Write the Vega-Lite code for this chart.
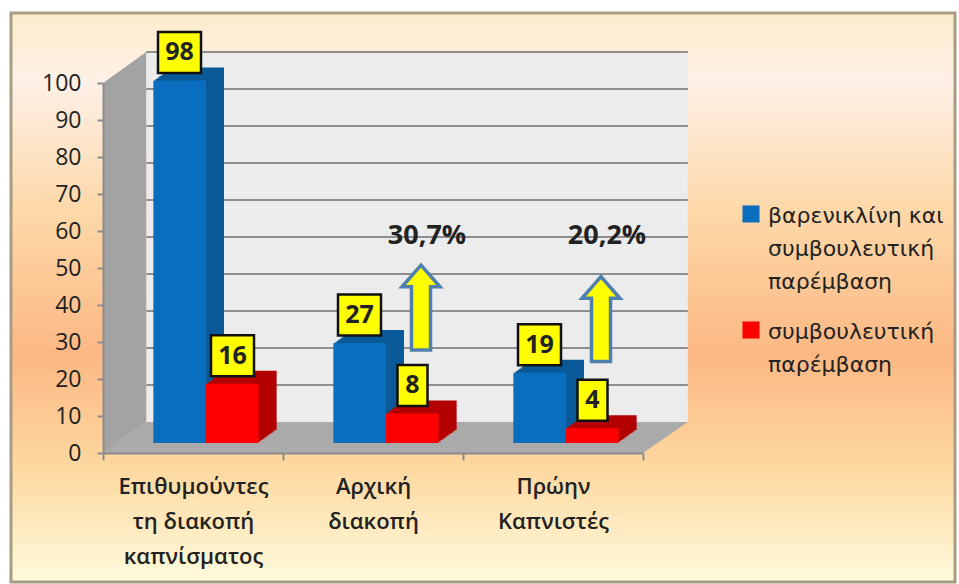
{"$schema":"https://vega.github.io/schema/vega-lite/v6.json","width":540,"height":370,"autosize":{"type":"none"},"padding":{"left":103,"top":83,"right":316,"bottom":131},"background":"#ffffff","config":{"view":{"stroke":null},"font":"Open Sans","axisY":{"tickCount":11,"title":null,"grid":false,"domainColor":"#8c8c8c","domainWidth":2,"tickColor":"#8c8c8c","tickSize":6,"tickWidth":2,"labelFontSize":23,"labelColor":"#222222","labelPadding":16}},
"datasets":{"bars":[
{"cat":"Επιθυμούντες\nτη διακοπή\nκαπνίσματος","series":"βαρενικλίνη και\nσυμβουλευτική\nπαρέμβαση","value":98},
{"cat":"Επιθυμούντες\nτη διακοπή\nκαπνίσματος","series":"συμβουλευτική\nπαρέμβαση","value":16},
{"cat":"Αρχική\nδιακοπή","series":"βαρενικλίνη και\nσυμβουλευτική\nπαρέμβαση","value":27},
{"cat":"Αρχική\nδιακοπή","series":"συμβουλευτική\nπαρέμβαση","value":8},
{"cat":"Πρώην\nΚαπνιστές","series":"βαρενικλίνη και\nσυμβουλευτική\nπαρέμβαση","value":19},
{"cat":"Πρώην\nΚαπνιστές","series":"συμβουλευτική\nπαρέμβαση","value":4}],
"notes":[{"cat":"Αρχική\nδιακοπή","note":"30,7%","arrow":39.3,"noteY":58.6},{"cat":"Πρώην\nΚαπνιστές","note":"20,2%","arrow":36.2,"noteY":58.6}]},
"resolve":{"scale":{"x":"independent"}},
"layer":[
{"layer":[
{"data":{"values":[{}]},"mark":{"type":"rect","fill":{"gradient":"linear","x1":0,"y1":0,"x2":0,"y2":1,"stops":[{"offset":0,"color":"#fdeccc"},{"offset":0.12,"color":"#fef0e6"},{"offset":0.35,"color":"#fdd8a8"},{"offset":0.6,"color":"#fcb884"},{"offset":0.8,"color":"#fdd8a0"},{"offset":1,"color":"#fffbdc"}]},"stroke":"#a89d84","strokeWidth":3},"encoding":{"x":{"value":-92},"x2":{"value":852},"y":{"value":-70},"y2":{"value":499}}},
{"data":{"values":[{"a":0.08,"b":1.083,"lo":8.38,"hi":108.38}]},"mark":{"type":"rect","fill":"#ececec"},"encoding":{"x":{"field":"a","type":"quantitative","scale":{"domain":[0,1]},"axis":null},"x2":{"field":"b"},"y":{"field":"lo","type":"quantitative","scale":{"domain":[0,100],"nice":false},"axis":{"title":null,"zindex":1}},"y2":{"field":"hi"}}},
{"data":{"values":[{"p":0,"lo":0,"hi":100},{"p":0.08,"lo":8.38,"hi":108.38}]},"mark":{"type":"area","fill":"#a3a3a3","orient":"vertical"},"encoding":{"x":{"field":"p","type":"quantitative"},"y":{"field":"lo","type":"quantitative","axis":{"title":null,"zindex":1}},"y2":{"field":"hi"}}},
{"data":{"values":[{"lv":0,"a":0,"b":1},{"lv":8.38,"a":0.08,"b":1.083}]},"mark":{"type":"area","fill":"#abaaaa","orient":"horizontal"},"encoding":{"y":{"field":"lv","type":"quantitative","axis":{"title":null,"zindex":1}},"x":{"field":"a","type":"quantitative"},"x2":{"field":"b"}}},
{"data":{"values":[{"v":10},{"v":20},{"v":30},{"v":40},{"v":50},{"v":60},{"v":70},{"v":80},{"v":90},{"v":100}]},"mark":{"type":"rule","stroke":"#8f8f8f","strokeWidth":2,"yOffset":-31},"encoding":{"y":{"field":"v","type":"quantitative","axis":{"title":null,"zindex":1}},"x":{"datum":0.08},"x2":{"datum":1.083}}}
]},
{"data":{"name":"bars"},"resolve":{"scale":{"xOffset":"independent"}},"encoding":{
"x":{"field":"cat","type":"nominal","sort":null,"scale":{"paddingInner":0,"paddingOuter":0},"axis":{"title":null,"orient":"bottom","labelAngle":0,"tickBand":"extent","zindex":1,"labelExpr":"split(datum.label,'\\n')","labelFontSize":22,"labelFontWeight":600,"labelColor":"#222222","labelPadding":16,"labelLineHeight":35,"labelLimit":0,"domainColor":"#8c8c8c","domainWidth":2,"tickColor":"#8c8c8c","tickSize":7,"tickWidth":2}},
"y":{"field":"value","type":"quantitative","axis":{"title":null,"zindex":1}}},
"layer":[
{"mark":{"type":"bar","yOffset":-23,"y2Offset":-23},"encoding":{"xOffset":{"field":"series","type":"nominal","sort":null,"scale":{"paddingInner":0,"paddingOuter":0.71,"range":[31,211]}},"fill":{"condition":{"test":"indexof(datum.series,'και')>=0","value":"#0a5a99"},"value":"#b30000"}}},
{"mark":{"type":"bar","yOffset":-21.6,"y2Offset":-21.6},"encoding":{"xOffset":{"field":"series","type":"nominal","sort":null,"scale":{"paddingInner":0,"paddingOuter":0.71,"range":[29,209]}},"fill":{"condition":{"test":"indexof(datum.series,'και')>=0","value":"#0a5a99"},"value":"#b30000"}}},
{"mark":{"type":"bar","yOffset":-20.1,"y2Offset":-20.1},"encoding":{"xOffset":{"field":"series","type":"nominal","sort":null,"scale":{"paddingInner":0,"paddingOuter":0.71,"range":[27,207]}},"fill":{"condition":{"test":"indexof(datum.series,'και')>=0","value":"#0a5a99"},"value":"#b30000"}}},
{"mark":{"type":"bar","yOffset":-18.7,"y2Offset":-18.7},"encoding":{"xOffset":{"field":"series","type":"nominal","sort":null,"scale":{"paddingInner":0,"paddingOuter":0.71,"range":[25,205]}},"fill":{"condition":{"test":"indexof(datum.series,'και')>=0","value":"#0a5a99"},"value":"#b30000"}}},
{"mark":{"type":"bar","yOffset":-17.2,"y2Offset":-17.2},"encoding":{"xOffset":{"field":"series","type":"nominal","sort":null,"scale":{"paddingInner":0,"paddingOuter":0.71,"range":[23,203]}},"fill":{"condition":{"test":"indexof(datum.series,'και')>=0","value":"#0a5a99"},"value":"#b30000"}}},
{"mark":{"type":"bar","yOffset":-15.8,"y2Offset":-15.8},"encoding":{"xOffset":{"field":"series","type":"nominal","sort":null,"scale":{"paddingInner":0,"paddingOuter":0.71,"range":[21,201]}},"fill":{"condition":{"test":"indexof(datum.series,'και')>=0","value":"#0a5a99"},"value":"#b30000"}}},
{"mark":{"type":"bar","yOffset":-14.3,"y2Offset":-14.3},"encoding":{"xOffset":{"field":"series","type":"nominal","sort":null,"scale":{"paddingInner":0,"paddingOuter":0.71,"range":[19,199]}},"fill":{"condition":{"test":"indexof(datum.series,'και')>=0","value":"#0a5a99"},"value":"#b30000"}}},
{"mark":{"type":"bar","yOffset":-12.9,"y2Offset":-12.9},"encoding":{"xOffset":{"field":"series","type":"nominal","sort":null,"scale":{"paddingInner":0,"paddingOuter":0.71,"range":[17,197]}},"fill":{"condition":{"test":"indexof(datum.series,'και')>=0","value":"#0a5a99"},"value":"#b30000"}}},
{"mark":{"type":"bar","yOffset":-11.4,"y2Offset":-11.4},"encoding":{"xOffset":{"field":"series","type":"nominal","sort":null,"scale":{"paddingInner":0,"paddingOuter":0.71,"range":[15,195]}},"fill":{"condition":{"test":"indexof(datum.series,'και')>=0","value":"#0a5a99"},"value":"#b30000"}}},
{"mark":{"type":"bar","yOffset":-10,"y2Offset":-10},"encoding":{"xOffset":{"field":"series","type":"nominal","sort":null,"scale":{"paddingInner":0,"paddingOuter":0.71,"range":[13,193]}},
"color":{"field":"series","type":"nominal","sort":null,"scale":{"range":["#0a6ebe","#ff0000"]},"legend":{"title":null,"orient":"none","legendX":637,"legendY":120,"symbolType":"square","symbolSize":290,"symbolStrokeWidth":0,"labelFont":"DejaVu Sans","labelFontSize":22,"labelColor":"#222222","labelLimit":0,"labelBaseline":"top","labelExpr":"split(datum.label,'\\n')","rowPadding":26,"labelOffset":6,"encode":{"labels":{"update":{"lineHeight":{"value":33},"dy":{"value":-8}}}}}}}},
{"transform":[{"filter":"datum.value>=10"}],"mark":{"type":"point","filled":true,"shape":"M-1,-0.953H1V0.953H-1Z","size":1849,"fill":"#ffff00","fillOpacity":1,"stroke":"#111111","strokeWidth":2.5,"strokeOpacity":1,"yOffset":-38},"encoding":{"xOffset":{"field":"series","type":"nominal","sort":null,"scale":{"domain":["βαρενικλίνη και\nσυμβουλευτική\nπαρέμβαση","συμβουλευτική\nπαρέμβαση"],"type":"point","padding":1,"range":[23.5,182.5]}}}},
{"transform":[{"filter":"datum.value<10"}],"mark":{"type":"point","filled":true,"shape":"M-0.698,-0.953H0.698V0.953H-0.698Z","size":1849,"fill":"#ffff00","fillOpacity":1,"stroke":"#111111","strokeWidth":2.5,"strokeOpacity":1,"yOffset":-38},"encoding":{"xOffset":{"field":"series","type":"nominal","sort":null,"scale":{"domain":["βαρενικλίνη και\nσυμβουλευτική\nπαρέμβαση","συμβουλευτική\nπαρέμβαση"],"type":"point","padding":1,"range":[23.5,182.5]}}}},
{"mark":{"type":"text","font":"Open Sans","fontWeight":"bold","fontSize":25,"color":"#222222","yOffset":-38},"encoding":{"xOffset":{"field":"series","type":"nominal","sort":null,"scale":{"domain":["βαρενικλίνη και\nσυμβουλευτική\nπαρέμβαση","συμβουλευτική\nπαρέμβαση"],"type":"point","padding":1,"range":[23.5,182.5]}},"text":{"field":"value","type":"quantitative"}}},
{"data":{"name":"notes"},"mark":{"type":"point","filled":true,"shape":"M0,-1L0.447,-0.49H0.224V1H-0.224V-0.49H-0.447Z","size":7225,"fill":"#ffff00","fillOpacity":1,"stroke":"#4f7fae","strokeWidth":3.5,"strokeOpacity":1},"encoding":{"xOffset":{"value":138},"y":{"field":"arrow","type":"quantitative","axis":{"title":null,"zindex":1}}}},
{"data":{"name":"notes"},"mark":{"type":"text","fontWeight":"bold","fontSize":27,"color":"#222222"},"encoding":{"xOffset":{"value":144},"y":{"field":"noteY","type":"quantitative","axis":{"title":null,"zindex":1}},"text":{"field":"note","type":"nominal"}}}
]}
]}
